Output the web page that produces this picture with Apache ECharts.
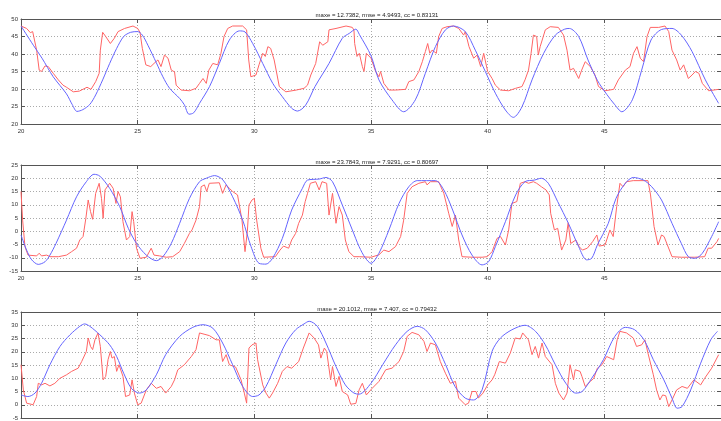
<!DOCTYPE html>
<html>
<head>
<meta charset="utf-8">
<script src="https://cdn.jsdelivr.net/npm/echarts@6/dist/echarts.min.js"></script>
<style>
  html, body { margin: 0; padding: 0; background: #fff; }
  #chart { width: 721px; height: 421px; }
</style>
</head>
<body>
<div id="chart"></div>
<script>
// titles of the three panels
var titles = [
  'maxe = 12.7382, rmse = 4.9493, cc = 0.83131',
  'maxe = 23.7843, rmse = 7.9291, cc = 0.80697',
  'maxe = 20.1012, rmse = 7.407, cc = 0.79432'
];
// y ranges [min, max] of the panels
var yRanges = [[20, 50], [-15, 25], [-5, 35]];
var xRange = [20, 50];

// panel 1
var blue1 = [[20,48],[20.53,42.5],[20.9,38.8],[21.38,33.5],[21.95,28.6],[22.2,25.5],[22.4,23.6],[22.65,24.1],[22.95,25.6],[23.2,28.3],[23.5,32.6],[23.8,37.3],[24.1,41.6],[24.4,45],[24.7,46.2],[25,46.4],[25.2,45.4],[25.44,42.5],[25.8,37.5],[26.08,33.5],[26.37,30.2],[26.8,27.3],[27.0,25.5],[27.2,22.8],[27.4,23.2],[27.65,25.9],[28.08,30.7],[28.5,37.3],[28.93,44],[29.36,46.6],[29.6,46.3],[29.93,43],[30.36,37.3],[30.79,31.6],[31.2,27.8],[31.6,24.5],[31.85,23.7],[32.2,25.4],[32.6,30.7],[33.2,37.3],[33.77,44.5],[34.07,45.9],[34.35,47.1],[34.5,45.6],[35,39.5],[35.34,32.6],[35.9,26.9],[36.4,23.5],[36.9,26.9],[37.33,34.5],[37.76,42.1],[38.19,46.9],[38.54,48],[39.04,46.4],[39.47,41.1],[39.9,35],[40.33,28.8],[40.76,24],[41.1,21.9],[41.47,24.9],[41.9,32.6],[42.4,40.2],[42.9,45.4],[43.3,47.1],[43.5,47.3],[43.9,45],[44.3,38.3],[44.7,32.5],[45.1,28.5],[45.45,25.5],[45.75,23.5],[46.2,26.9],[46.6,35.4],[47.0,44],[47.45,47],[47.9,47.3],[48.3,45.4],[48.76,40.7],[49.33,32.6],[49.9,25.9]];
var red1 = [[20,48],[20.24,47.3],[20.4,46.1],[20.5,46.4],[20.58,46],[20.67,41.1],[20.78,35.4],[20.88,35],[21.03,36.6],[21.17,36.4],[21.38,34.5],[21.6,32.6],[21.8,31.1],[21.95,30.5],[22.24,29.2],[22.5,29.4],[22.83,30.5],[23,29.9],[23.2,32.1],[23.35,34.5],[23.4,41.1],[23.5,46.2],[23.63,45],[23.83,43],[24.0,44.5],[24.16,46.4],[24.44,47.3],[24.8,48],[25,47.3],[25.1,46.2],[25.2,41.6],[25.35,36.9],[25.56,36.4],[25.7,37.3],[25.87,38.3],[26,36.4],[26.15,39.7],[26.3,38.8],[26.44,35.4],[26.58,34.9],[26.65,31.1],[26.86,29.7],[27.22,29.5],[27.5,30.2],[27.65,31.6],[27.8,33],[27.94,31.6],[28.05,35.4],[28.22,37.3],[28.43,36.9],[28.57,40.2],[28.7,45],[28.86,47.3],[29.07,48],[29.5,48],[29.67,46.9],[29.76,38.3],[29.85,33.5],[30.07,34],[30.2,36.9],[30.36,40.2],[30.47,39.3],[30.58,42.1],[30.7,41.6],[30.85,38.3],[31.07,30.7],[31.35,29.2],[31.8,29.7],[32.13,30.2],[32.28,31.1],[32.42,34],[32.63,37.3],[32.8,43.5],[32.93,42.5],[33.15,43.5],[33.2,46.9],[33.5,47.3],[33.93,48],[34.2,47.6],[34.27,46.8],[34.3,43],[34.4,39.3],[34.5,40.2],[34.63,36.4],[34.7,35],[34.8,40.2],[35,38.8],[35.2,35],[35.34,33.5],[35.41,35],[35.55,31.6],[35.77,29.7],[36.05,29.7],[36.48,29.9],[36.62,32.1],[36.84,32.6],[37.05,35],[37.2,37.8],[37.33,40.7],[37.43,43],[37.52,40.2],[37.62,41.1],[37.8,40.2],[37.9,45],[38.05,47.3],[38.26,47.8],[38.54,48],[38.76,47.3],[38.97,45.4],[39.04,46.4],[39.2,42.1],[39.4,38.8],[39.55,39.7],[39.7,36.4],[39.83,40.2],[40,35],[40.19,33],[40.33,31.1],[40.55,29.7],[40.9,29.5],[41.2,30.2],[41.47,30.7],[41.6,32.6],[41.75,35.4],[41.86,40.2],[41.96,45.4],[42.1,45],[42.17,39.7],[42.25,42.1],[42.47,46.9],[42.68,47.8],[43.03,47.6],[43.25,45.4],[43.4,41.1],[43.53,35.4],[43.68,35.9],[43.9,33],[44.03,35.4],[44.18,37.8],[44.4,36.4],[44.6,34],[44.75,30.7],[45.03,29.5],[45.4,29.9],[45.6,32.6],[45.9,35.4],[46.1,36.4],[46.25,40.2],[46.4,42.1],[46.54,38.8],[46.68,37.8],[46.83,45],[46.97,47.6],[47.33,47.6],[47.6,48],[47.76,46.4],[47.9,41.1],[48.1,38.3],[48.25,35.4],[48.4,36.9],[48.6,33],[48.76,34],[48.9,35],[49.05,34.5],[49.2,31.6],[49.47,29.5],[49.9,29.9]];

// panel 2
var blue2 = [[20,-1.4],[20.24,-7.1],[20.46,-10.8],[20.74,-12.5],[21.03,-11.5],[21.24,-9],[21.5,-4.6],[21.95,4.2],[22.38,13],[22.8,18.7],[23.13,21.5],[23.38,20.8],[23.8,16.2],[24.23,9.3],[24.6,1.1],[24.95,-4.6],[25.37,-9],[25.8,-11.1],[26.08,-9.6],[26.44,-4.6],[26.8,3],[27.22,12.4],[27.65,18.7],[27.94,20],[28.3,21],[28.66,19.3],[29.07,13],[29.5,4.2],[29.86,-5.8],[30.2,-12.1],[30.5,-12.4],[30.78,-10.2],[31.2,-2.7],[31.6,8],[32.06,16.2],[32.28,19.3],[32.78,19.7],[33.07,20.3],[33.35,18.7],[33.77,9.9],[34.2,0.5],[34.49,-5.8],[34.75,-10],[35,-12.1],[35.34,-8.3],[35.77,0.5],[36.2,10.5],[36.62,16.8],[36.98,19.1],[37.76,19.1],[38.12,15.6],[38.5,8],[38.9,-1.4],[39.33,-9],[39.76,-12.7],[40.04,-11.5],[40.33,-5.8],[40.76,3.6],[41.2,13.7],[41.6,18.7],[42.0,19.3],[42.3,20],[42.6,18.1],[43.0,11.2],[43.46,3],[43.9,-5.8],[44.24,-10.8],[44.46,-10.2],[44.7,-5.2],[45.17,3],[45.5,12.4],[45.9,18.1],[46.24,20.3],[46.68,19.3],[47.03,16.8],[47.45,11.8],[47.9,3],[48.3,-4.6],[48.6,-9.6],[48.9,-10.2],[49.2,-8.3],[49.6,-2],[49.9,3.6]];
var red2 = [[20,15],[20.07,4.2],[20.17,-5.8],[20.3,-9],[20.67,-9.3],[20.78,-8.3],[20.88,-9.3],[21.1,-9],[21.24,-9.6],[21.6,-9.6],[21.95,-9],[22.17,-7.7],[22.38,-6.4],[22.52,-3.3],[22.66,-2],[22.78,4.9],[22.88,11.8],[22.98,7.4],[23.07,4.5],[23.2,14.3],[23.35,18.1],[23.45,12.4],[23.52,4.9],[23.6,15.6],[23.8,18.1],[23.95,16.2],[24.07,10.5],[24.16,15],[24.26,13],[24.37,3.6],[24.52,-3.3],[24.66,-2],[24.76,7.4],[24.83,3.6],[24.95,-6.4],[25.1,-10.2],[25.37,-9.8],[25.58,-6.4],[25.7,-9],[25.94,-9.3],[26.22,-9.8],[26.5,-9.6],[26.8,-7.7],[27.0,-4.6],[27.22,-0.8],[27.33,0.5],[27.5,4.2],[27.65,9.3],[27.72,16.8],[27.86,17.5],[27.96,15],[28.07,18.1],[28.5,18.3],[28.64,14.3],[28.79,17.5],[28.93,16.2],[29.07,15],[29.28,13.7],[29.47,4.2],[29.6,-7.7],[29.7,-0.2],[29.77,9.9],[29.9,11.8],[30.0,12.4],[30.1,4.2],[30.15,4.6],[30.28,-6.4],[30.4,-9.8],[30.9,-9.6],[31.1,-7.1],[31.25,-5.6],[31.47,-6.4],[31.6,-3.3],[31.77,-0.8],[31.9,3],[32.06,6.1],[32.18,11.2],[32.28,14.3],[32.4,18.1],[32.63,18.7],[32.78,15.6],[32.9,18.7],[33.1,18.1],[33.2,6.1],[33.35,14.3],[33.5,3],[33.63,9.3],[33.77,6.1],[33.9,-3.3],[34.05,-7.7],[34.27,-9.6],[34.49,-9.6],[35,-9.8],[35.34,-8.9],[35.55,-7.1],[35.77,-7.7],[36.05,-5.8],[36.27,-2],[36.4,4.2],[36.55,14.3],[36.76,16.8],[37.05,18.1],[37.33,18.7],[37.4,17.5],[37.55,18.7],[37.9,18.7],[38.12,14.3],[38.33,6.8],[38.48,1.8],[38.62,6.1],[38.76,-3.3],[38.9,-9.6],[39.33,-9.8],[39.76,-9.8],[39.98,-9.6],[40.19,-7.7],[40.4,-2.7],[40.55,-2],[40.76,-5.2],[40.9,0.5],[41.04,10.5],[41.25,11.2],[41.4,18.1],[41.6,18.7],[41.75,18.1],[41.96,18.7],[42.1,18.1],[42.3,16.8],[42.5,15.6],[42.64,13.7],[42.7,6.8],[42.86,0.5],[43.0,1.1],[43.17,-7.1],[43.35,-3.3],[43.45,3.2],[43.56,-4.6],[43.78,-3.3],[43.92,-5.8],[44.06,-7.1],[44.27,-6.4],[44.5,-3.9],[44.68,-1.4],[44.78,-5.6],[45.03,-5.2],[45.24,0.5],[45.38,-2],[45.53,9.3],[45.67,18.1],[45.8,16.8],[45.95,18.7],[46.24,19.1],[46.87,19.1],[46.98,13.7],[47.13,1.8],[47.3,-5.2],[47.45,-1.4],[47.56,-2],[47.9,-9.6],[48.3,-9.8],[48.87,-9.8],[49.3,-9.6],[49.45,-6.4],[49.6,-6.4],[49.83,-3.9],[49.9,-2.7]];

// panel 3
var blue3 = [[20,3.7],[20.3,3.1],[20.6,4.4],[20.88,8.1],[21.24,15.1],[21.67,22],[22.1,26.4],[22.52,29.6],[22.73,30.5],[22.95,29.6],[23.38,26.4],[23.8,22.6],[24.1,18.2],[24.4,11.9],[24.73,6.2],[25.08,4.4],[25.37,5.6],[25.8,11.3],[26.2,18.9],[26.8,25.8],[27.36,29.2],[27.8,30.2],[28.22,28.9],[28.64,23.3],[29.07,15.1],[29.5,6.9],[29.93,3.1],[30.2,3.7],[30.5,6.9],[30.92,15.1],[31.35,23.3],[31.77,28.3],[32.13,30.5],[32.35,31.5],[32.7,29.6],[33.07,23.3],[33.5,14.4],[33.9,7.5],[34.27,4.4],[34.49,4],[35,8.1],[35.5,15.1],[36.05,22.6],[36.55,27.7],[36.98,29.6],[37.33,28.3],[37.76,23.3],[38.2,15.1],[38.6,6.9],[39.04,2.5],[39.4,1.8],[39.76,5.6],[40.19,20.2],[40.55,25.2],[41.04,28.3],[41.6,30],[42.05,27.7],[42.47,22.6],[42.9,15.1],[43.35,8.1],[43.77,4.4],[44.05,5],[44.46,10],[44.96,17],[45.45,25.8],[45.9,29.2],[46.3,28.3],[46.7,24.5],[47.1,17],[47.55,9.4],[47.9,2.5],[48.12,-1.3],[48.33,-0.7],[48.7,5.6],[49.13,15.7],[49.56,24.5],[49.85,27.7]];
var red3 = [[20,15.1],[20.1,5.6],[20.24,0.6],[20.52,0],[20.6,0.4],[20.67,3.1],[20.74,8.1],[20.88,7.5],[21.03,8.1],[21.24,7.1],[21.45,8.1],[21.67,10],[21.95,11.3],[22.17,12.6],[22.45,13.8],[22.6,16.3],[22.8,20.1],[22.88,25.2],[22.98,22],[23.07,20.8],[23.17,24.5],[23.3,27.1],[23.4,22],[23.52,9.4],[23.63,10.7],[23.73,17],[23.83,20.1],[23.9,17.6],[24.0,18.2],[24.1,12.6],[24.2,15.1],[24.37,10.7],[24.48,3.1],[24.66,3.7],[24.76,9.4],[24.86,4.4],[25.0,0],[25.15,0.6],[25.37,5.6],[25.58,8.1],[25.8,6.2],[26.0,6.9],[26.2,4.4],[26.44,6.9],[26.58,9.4],[26.72,13.2],[27.0,15.1],[27.3,18.2],[27.5,20.8],[27.65,27.1],[28.07,26.1],[28.36,24.5],[28.5,24.5],[28.64,16.3],[28.79,18.9],[28.93,15.1],[29.2,14.2],[29.43,9.4],[29.57,4.4],[29.67,0.6],[29.77,21.4],[29.9,22.6],[30.07,23.3],[30.14,17],[30.21,16.3],[30.36,7.5],[30.5,4.4],[30.64,2.5],[30.78,4.4],[31.0,8.1],[31.2,12.6],[31.4,14.4],[31.6,13.8],[31.9,16.3],[32.1,21.4],[32.35,27.1],[32.56,25.2],[32.75,22.6],[32.85,17.6],[33.0,21.4],[33.1,20.1],[33.27,9.4],[33.35,14.4],[33.5,6.9],[33.63,10.7],[33.77,5],[34.0,3.7],[34.13,0.2],[34.35,0.5],[34.49,5.6],[34.63,8.1],[34.8,3.7],[35.05,6.2],[35.34,8.8],[35.63,13.2],[35.9,13.8],[36.2,16.3],[36.4,20.1],[36.55,25.8],[36.76,27.3],[37.05,26.4],[37.27,23.9],[37.4,20.1],[37.55,23.3],[37.76,22.6],[37.97,16.3],[38.19,11.9],[38.4,8.1],[38.62,8.8],[38.76,2.5],[39.04,0],[39.18,0.6],[39.33,5],[39.5,5],[39.6,2.5],[39.8,4.4],[40.0,7.5],[40.19,9.4],[40.3,11.3],[40.5,16.3],[40.76,15.7],[40.97,19.5],[41.18,25.2],[41.4,24.8],[41.5,27.1],[41.75,24.5],[41.9,18.9],[42.04,22],[42.18,17.6],[42.33,23.3],[42.47,18.2],[42.76,15.1],[42.9,8.1],[43.05,4.4],[43.25,1.8],[43.4,4.4],[43.53,15.1],[43.68,9.4],[43.75,13.2],[43.96,12.6],[44.04,10.7],[44.18,6.9],[44.4,8.8],[44.55,10],[44.7,13.8],[44.9,15.1],[45.1,18.2],[45.4,17],[45.55,24.5],[45.67,27.7],[45.95,27.1],[46.24,25.2],[46.38,22],[46.6,22.6],[46.74,24.5],[46.87,19.5],[47.1,11.3],[47.24,5.6],[47.38,1.8],[47.5,3.7],[47.63,3.4],[47.76,-0.7],[47.9,1.8],[48.1,5.6],[48.33,6.9],[48.56,6.2],[48.84,9.4],[49.13,7.5],[49.3,10],[49.6,13.8],[49.9,18.9]];

var blues = [blue1, blue2, blue3];
var reds = [red1, red2, red3];
var gridTops = [19, 165, 312];
var gridHeights = [105, 106, 106];
var titleTops = [7, 154, 301];

var chart = echarts.init(document.getElementById('chart'));
var axisColor = '#555';
var labelStyle = { fontSize: 6, color: '#333', fontFamily: 'Liberation Sans' };

var option = {
  animation: false,
  title: [],
  grid: [],
  xAxis: [],
  yAxis: [],
  series: []
};

for (var i = 0; i < 3; i++) {
  option.title.push({
    text: titles[i],
    left: 372,
    top: titleTops[i],
    textAlign: 'center',
    textStyle: { fontSize: 6, fontWeight: 'normal', color: '#222', fontFamily: 'Liberation Sans' }
  });
  option.grid.push({ left: 21, top: gridTops[i], width: 702, height: gridHeights[i] });

  // bottom x axis with labels, top x axis as frame
  option.xAxis.push({
    type: 'value', gridIndex: i, min: xRange[0], max: xRange[1], interval: 5,
    axisLine: { onZero: false, lineStyle: { color: axisColor, width: 1 } },
    axisTick: { inside: true, length: 4, lineStyle: { color: axisColor } },
    // the lowest panel's labels fall below the picture
    axisLabel: Object.assign({ show: i < 2, margin: 4, showMaxLabel: false }, labelStyle),
    splitLine: { show: true, lineStyle: { type: [1, 2], color: '#aaa' } }
  });
  option.xAxis.push({
    type: 'value', gridIndex: i, position: 'top', min: xRange[0], max: xRange[1], interval: 5,
    axisLine: { onZero: false, lineStyle: { color: axisColor, width: 1 } },
    axisTick: { inside: true, length: 4, lineStyle: { color: axisColor } },
    axisLabel: { show: false },
    splitLine: { show: false }
  });

  // left y axis with labels, right y axis as frame
  option.yAxis.push({
    type: 'value', gridIndex: i, min: yRanges[i][0], max: yRanges[i][1], interval: 5,
    axisLine: { show: true, onZero: false, lineStyle: { color: axisColor, width: 1 } },
    axisTick: { show: true, inside: true, length: 4, lineStyle: { color: axisColor } },
    axisLabel: Object.assign({ margin: 3 }, labelStyle),
    splitLine: { show: true, lineStyle: { type: [1, 2], color: '#aaa' } }
  });
  option.yAxis.push({
    type: 'value', gridIndex: i, position: 'right', min: yRanges[i][0], max: yRanges[i][1], interval: 5,
    axisLine: { show: true, onZero: false, lineStyle: { color: axisColor, width: 1 } },
    axisTick: { show: true, inside: true, length: 4, lineStyle: { color: axisColor } },
    axisLabel: { show: false },
    splitLine: { show: false }
  });

  option.series.push({
    type: 'line', xAxisIndex: i * 2, yAxisIndex: i * 2,
    data: reds[i], showSymbol: false, symbol: 'none',
    lineStyle: { color: '#ff6464', width: 1 }
  });
  option.series.push({
    type: 'line', xAxisIndex: i * 2, yAxisIndex: i * 2,
    data: blues[i], showSymbol: false, symbol: 'none', smooth: 0.3,
    lineStyle: { color: '#6464ff', width: 1 }
  });
}

chart.setOption(option);
</script>
</body>
</html>
